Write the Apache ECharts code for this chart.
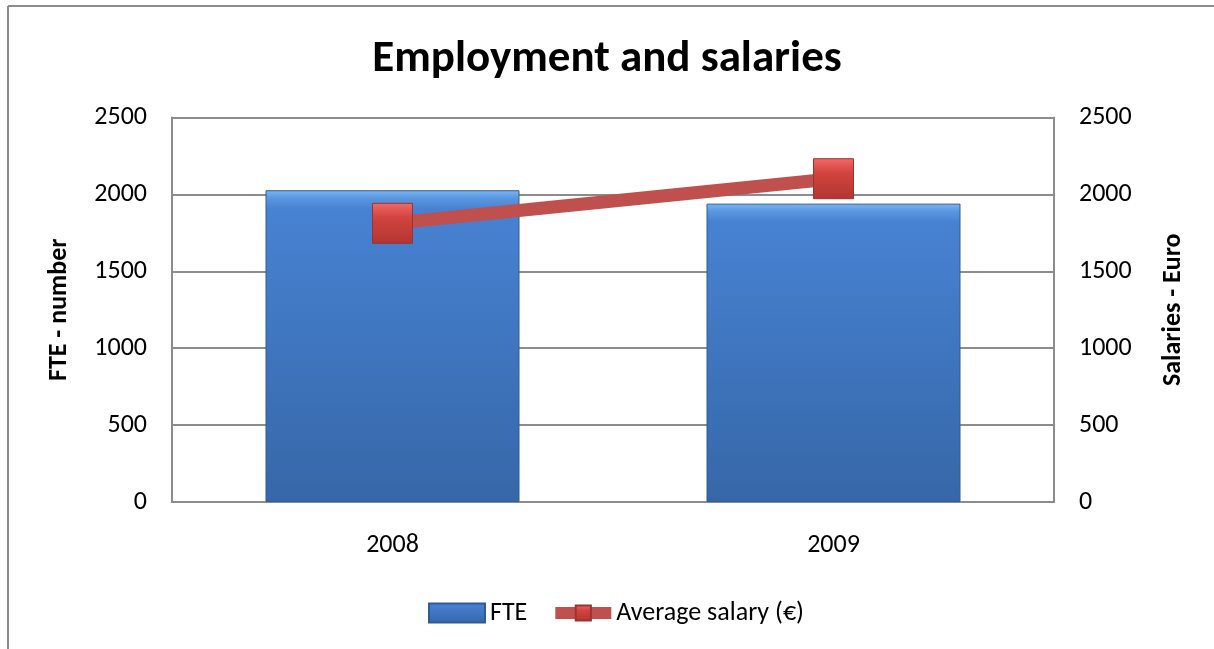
<!DOCTYPE html>
<html>
<head>
<meta charset="utf-8">
<script src="https://cdn.jsdelivr.net/npm/echarts@6/dist/echarts.min.js"></script>
<style>
  html, body { margin: 0; padding: 0; background: #fff; }
  #chart { width: 1214px; height: 649px; }
</style>
</head>
<body>
<div id="chart"></div>
<script>
// Employment (FTE) and average monthly salary per year
const years = ['2008', '2009'];
const fte = [2027, 1940];
const avgSalary = [1812, 2102];
const axisTicks = [0, 500, 1000, 1500, 2000, 2500];

const FONT = 'Carlito, Lato, "Open Sans", sans-serif';
const gridColor = '#8c8c8c';

const barFill = {
  type: 'linear', x: 0, y: 0, x2: 0, y2: 1,
  colorStops: [
    { offset: 0, color: '#7cb6f2' },
    { offset: 0.025, color: '#5a97e0' },
    { offset: 0.06, color: '#4782d2' },
    { offset: 1, color: '#3667a8' }
  ]
};
const markerFill = {
  type: 'linear', x: 0, y: 0, x2: 0, y2: 1,
  colorStops: [
    { offset: 0, color: '#f36a67' },
    { offset: 0.35, color: '#d2443f' },
    { offset: 1, color: '#b23531' }
  ]
};

const chart = echarts.init(document.getElementById('chart'), null, { renderer: 'canvas' });

const valueAxisBase = {
  type: 'value',
  min: axisTicks[0],
  max: axisTicks[axisTicks.length - 1],
  interval: axisTicks[1] - axisTicks[0],
  nameLocation: 'middle',
  nameRotate: 90,
  nameTextStyle: { fontFamily: FONT, fontSize: 26, fontWeight: 'bold', color: '#000' },
  axisLine: { show: true, lineStyle: { color: gridColor, width: 2 } },
  axisTick: { show: false },
  axisLabel: {
    fontFamily: FONT, fontSize: 26, color: '#000', margin: 25,
    formatter: v => String(v)
  }
};

chart.setOption({
  animation: false,
  backgroundColor: '#fff',
  title: {
    text: 'Employment and salaries',
    left: 'center',
    top: 32,
    textStyle: { fontFamily: FONT, fontSize: 45, fontWeight: 'bold', color: '#000' }
  },
  graphic: [
    { type: 'line', shape: { x1: 8, y1: 6, x2: 1214, y2: 6 }, style: { stroke: '#8c8c8c', lineWidth: 2 } },
    { type: 'line', shape: { x1: 8, y1: 6, x2: 8, y2: 649 }, style: { stroke: '#8c8c8c', lineWidth: 2 } }
  ],
  grid: { left: 172, right: 160, top: 117.5, bottom: 147, containLabel: false },
  legend: {
    top: 600,
    left: 428,
    padding: 0,
    itemGap: 22,
    itemWidth: 56,
    itemHeight: 19,
    textStyle: { fontFamily: FONT, fontSize: 26, color: '#000' },
    data: [
      { name: 'FTE', icon: 'rect' },
      { name: 'Average salary (€)', lineStyle: { width: 12, color: '#c0504d' } }
    ]
  },
  xAxis: {
    type: 'category',
    data: years,
    axisLine: { show: true, lineStyle: { color: gridColor, width: 2 } },
    axisTick: { show: false },
    axisLabel: { fontFamily: FONT, fontSize: 26, color: '#000', margin: 30 }
  },
  yAxis: [
    Object.assign({}, valueAxisBase, {
      position: 'left',
      name: 'FTE - number',
      nameGap: 100,
      splitLine: { show: true, lineStyle: { color: gridColor, width: 2 } }
    }),
    Object.assign({}, valueAxisBase, {
      position: 'right',
      name: 'Salaries - Euro',
      nameGap: 106,
      splitLine: { show: false }
    })
  ],
  series: [
    {
      name: 'FTE',
      type: 'bar',
      yAxisIndex: 0,
      data: fte,
      barWidth: 254,
      z: 1,
      itemStyle: { color: barFill, borderColor: '#2f5c97', borderWidth: 1 }
    },
    {
      name: 'Average salary (€)',
      type: 'line',
      yAxisIndex: 1,
      data: avgSalary,
      symbol: 'rect',
      symbolSize: 40,
      z: 3,
      lineStyle: { color: '#c0504d', width: 13 },
      itemStyle: { color: markerFill, borderColor: '#9b3431', borderWidth: 1 }
    }
  ]
});
</script>
</body>
</html>
